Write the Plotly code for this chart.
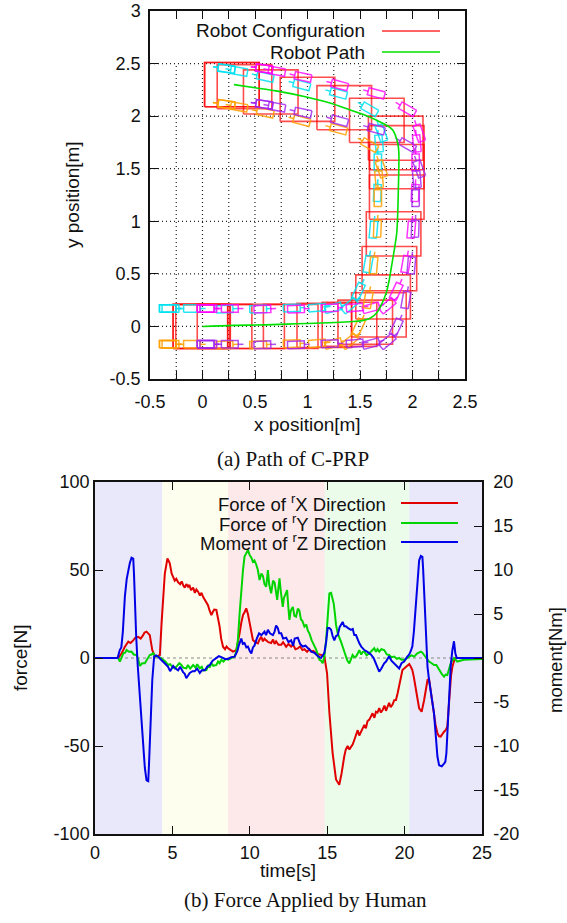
import math
import plotly.graph_objects as go

# ---------------- (a) Path of C-PRP ----------------
# robot path (travel order)
path_x = [0.0, 0.3, 0.6, 0.9, 1.2, 1.4, 1.52, 1.6, 1.66, 1.71, 1.75, 1.78, 1.80, 1.83,
          1.85, 1.86, 1.865, 1.87, 1.87, 1.86, 1.81, 1.74, 1.66, 1.52, 1.4, 1.23, 1.0,
          0.7, 0.5, 0.3]
path_y = [0.0, 0.01, 0.015, 0.025, 0.035, 0.045, 0.055, 0.08, 0.13, 0.22, 0.32, 0.45,
          0.57, 0.75, 0.89, 1.1, 1.3, 1.52, 1.65, 1.74, 1.87, 1.92, 1.96, 2.02, 2.06,
          2.12, 2.18, 2.24, 2.27, 2.3]

# sampled robot configurations: body centre and travel heading [deg]
cfg_x = [-0.02, -0.02, 0.005, 0.21, 0.52, 0.84, 1.16, 1.40, 1.55, 1.68, 1.72, 1.78,
         1.82, 1.85, 1.85, 1.85, 1.84, 1.66, 1.35, 1.00, 0.65, 0.40, 0.28, 0.28]
cfg_y = [0.0, 0.0, 0.0, 0.0, 0.0, 0.0, 0.01, 0.02, 0.04, 0.11, 0.28, 0.55,
         0.88, 1.23, 1.52, 1.70, 1.79, 1.96, 2.08, 2.16, 2.23, 2.28, 2.30, 2.30]
cfg_heading = [0, 0, 0, 0, 2, 2, 2, 5, 15, 40, 65, 80,
               85, 88, 90, 95, 110, 150, 165, 165, 168, 170, 172, 172]

x_ticks = [-0.5, 0, 0.5, 1, 1.5, 2, 2.5]
y_ticks = [-0.5, 0, 0.5, 1, 1.5, 2, 2.5, 3]
x_grid = [-0.25, 0, 0.25, 0.5, 0.75, 1, 1.25, 1.5, 1.75, 2, 2.25]
y_grid = [0, 0.5, 1, 1.5, 2, 2.5]

# ---------------- (b) Force Applied by Human ----------------
t_fx = [0, 1.5, 1.72, 1.93, 2.15, 2.3, 2.47, 2.6, 2.79, 2.95, 3.11, 3.2, 3.33, 3.45, 3.54,
        3.7, 3.87, 4.05, 4.19, 4.3, 4.51, 4.68, 4.83, 4.95, 5.05, 5.15, 5.25, 5.37, 5.5,
        5.6, 5.69, 5.8, 5.9, 6.01, 6.1, 6.2, 6.34, 6.45, 6.55, 6.66, 6.78, 6.88, 6.98,
        7.1, 7.2, 7.3, 7.4, 7.52, 7.6, 7.7, 7.84, 7.95, 8.05, 8.15, 8.27, 8.4, 8.5, 8.6,
        8.75, 8.91, 9.13, 9.25, 9.34, 9.45, 9.56, 9.66, 9.77, 9.88, 9.99, 10.1, 10.2,
        10.35, 10.52, 10.63, 10.74, 10.85, 10.95, 11.06, 11.2, 11.38, 11.5, 11.6, 11.7,
        11.85, 12.03, 12.15, 12.35, 12.5, 12.67, 12.8, 12.95, 13.1, 13.25, 13.4, 13.53,
        13.7, 13.85, 13.96, 14.1, 14.25, 14.39, 14.6, 14.82, 14.99, 15.14, 15.35, 15.57,
        15.78, 15.93, 16.1, 16.2, 16.32, 16.43, 16.54, 16.65, 16.75, 16.85, 16.97, 17.07,
        17.18, 17.3, 17.4, 17.5, 17.6, 17.72, 17.83, 17.93, 18.05, 18.15, 18.25, 18.36,
        18.47, 18.58, 18.7, 18.8, 18.9, 19.0, 19.1, 19.22, 19.33, 19.44, 19.55, 19.65,
        19.75, 19.86, 19.97, 20.08, 20.2, 20.3, 20.4, 20.5, 20.6, 20.72, 20.83, 20.94,
        21.1, 21.26, 21.38, 21.48, 21.58, 21.65, 21.78, 21.9, 22.0, 22.12, 22.23, 22.33,
        22.45, 22.55, 22.65, 22.76, 22.85, 22.91, 23.0, 23.09, 23.2, 23.3, 25]
force_x = [0, 0, 2.7, 6.4, 9.3, 8.5, 10, 11.5, 12, 11, 13, 14.5, 15, 13.5, 13,
           4.5, 0.8, 1.2, 1.7, 19.7, 48, 56.6, 53.8, 48, 46, 44, 45, 43, 42,
           43.5, 41.5, 40, 42, 40.5, 41.5, 38.5, 40, 37, 39, 37.7, 35.5, 37, 34.8,
           33, 31.5, 30, 27, 24.4, 26, 27.5, 27.3, 23, 17.8, 11, 6.4, 5, 6.5, 5.5,
           4.5, 3.6, 4.5, 9, 14, 20, 24.4, 26, 28.2, 25, 19.7, 14, 10.2,
           9, 8.3, 10.5, 12, 9.5, 11, 10, 9, 8.5, 10.5, 8, 9.5,
           7.5, 7.5, 9, 6.4, 8, 6.5, 7.5, 5, 5.5, 6.5, 4.5, 5,
           3.5, 5, 3.6, 4, 3, 2.3, 1.8, 0.8, -8.7, -31, -54, -69,
           -72, -65.5, -56, -52, -50, -52, -50.5, -49, -46.6, -44, -41, -44,
           -42, -39, -38, -40, -36, -35, -33, -31.4, -34, -30.5, -31, -28.5,
           -31, -29.5, -27, -30, -27.7, -25.5, -28, -26.5, -24, -23.9, -20, -16.3,
           -11, -6.8, -6, -5, -4, -3.4, -5, -6.8, -11, -16.3, -23, -28.6,
           -30.5, -24, -16, -12.5, -12, -16, -25, -33, -38, -42.8, -44.5, -44.7,
           -43, -41.9, -41, -39, -28, -18.2, -10, -4.9, -1.5, 0, 0]

t_fy = [0, 1.5, 1.61, 1.72, 1.83, 1.95, 2.04, 2.2, 2.36, 2.5, 2.68, 2.8, 2.9, 3.05, 3.22,
        3.35, 3.54, 3.65, 3.76, 3.9, 4.08, 4.25, 4.4, 4.55, 4.72, 4.85, 5.0, 5.15, 5.3,
        5.45, 5.58, 5.7, 5.9, 6.0, 6.15, 6.34, 6.5, 6.6, 6.77, 6.9, 7.0, 7.2, 7.3, 7.4,
        7.52, 7.65, 7.84, 7.95, 8.05, 8.16, 8.3, 8.45, 8.6, 8.8, 9.02, 9.13, 9.23, 9.34,
        9.45, 9.56, 9.66, 9.78, 9.88, 9.99, 10.1, 10.2, 10.3, 10.42, 10.52, 10.63, 10.75,
        10.85, 10.95, 11.06, 11.12, 11.17, 11.25, 11.32, 11.38, 11.45, 11.5, 11.6, 11.68,
        11.77, 11.85, 11.92, 12.0, 12.13, 12.2, 12.35, 12.41, 12.48, 12.56, 12.65, 12.78,
        12.88, 12.99, 13.1, 13.2, 13.3, 13.4, 13.53, 13.65, 13.75, 13.85, 14.0, 14.17,
        14.3, 14.5, 14.6, 14.71, 14.82, 14.93, 15.03, 15.14, 15.25, 15.35, 15.42, 15.5,
        15.57, 15.68, 15.78, 15.9, 16.0, 16.1, 16.2, 16.3, 16.43, 16.54, 16.64, 16.75,
        16.86, 16.97, 17.07, 17.2, 17.3, 17.4, 17.55, 17.72, 17.85, 18.04, 18.15, 18.25,
        18.36, 18.5, 18.68, 18.85, 19.0, 19.15, 19.33, 19.5, 19.65, 19.8, 19.97, 20.15,
        20.3, 20.45, 20.62, 20.8, 21.05, 21.15, 21.26, 21.4, 21.58, 21.75, 21.9, 22.05,
        22.23, 22.4, 22.55, 22.65, 22.76, 22.88, 22.98, 23.1, 23.19, 23.4, 23.6, 23.83,
        24.2, 24.7, 25]
force_y = [0, 0, -2, 1, 2.7, 3, 4.5, 3.5, 3.6, 2, 1.7, -1, -4.5, -3, -3,
           -1, 1.7, 2, 2.7, 1, 0.8, 0, -1, -2, -4, -3.5, -5, -5.9, -4.5,
           -3, -4, -5.5, -5.9, -4, -6, -4, -5.5, -3.5, -5.9, -5, -7, -6.8, -4, -5.5,
           -3, -4.5, -4, -2, -3, -1, -2, -0.5, -1, 0, 0.8, 4, 10.2, 25,
           38.6, 50, 57.6, 60, 61.4, 58.5, 57, 54.7, 55.5, 53, 50, 44.3, 48,
           46.5, 42, 40.5, 45, 50, 42, 38, 36.7, 41, 44, 43, 37,
           33, 40, 45.3, 38, 29, 34, 36.7, 38.6, 30, 21.6, 27, 29,
           24, 23.5, 28, 27, 22, 21, 17.8, 19, 15.5, 14, 10, 6.4,
           4.5, -1, -1.5, -3, 1, 10.2, 25, 36.7, 37, 34, 31, 25,
           18.8, 14, 12, 9, 6.4, 3.5, 0, -1.5, -3, 0, 1.7, 0.5,
           0.8, 2.5, 4.5, 2, 3.5, 3.6, 1.5, 2.7, 4, 5.5, 3.5, 5,
           3.6, 5, 4.5, 2, 1.7, 0.5, 0.8, -0.5, 0, -1, -1, 0,
           0.8, 1.5, 0.8, 2.5, 3.6, 3, 1.7, 0, -2, -3, -4, -4,
           -6.8, -9, -10.6, -9.5, -9.7, -6, -3, -1, 0, -2, -1.5, -1,
           -0.8, -0.6, -0.5]

t_mz = [0, 1.46, 1.6, 1.7, 1.8, 1.93, 2.05, 2.15, 2.25, 2.36, 2.47, 2.52, 2.58, 2.66,
        2.75, 2.9, 3.0, 3.11, 3.22, 3.33, 3.44, 3.49, 3.54, 3.62, 3.7, 3.82, 3.95, 4.08,
        4.2, 4.3, 4.5, 4.72, 4.85, 5.05, 5.2, 5.37, 5.5, 5.69, 5.8, 5.9, 6.0, 6.12, 6.3,
        6.44, 6.6, 6.77, 6.9, 7.09, 7.25, 7.41, 7.6, 7.84, 8.0, 8.16, 8.4, 8.6, 8.8, 9.02,
        9.2, 9.3, 9.45, 9.55, 9.66, 9.78, 9.88, 10.0, 10.1, 10.2, 10.3, 10.45, 10.6,
        10.75, 10.95, 11.05, 11.17, 11.3, 11.49, 11.6, 11.7, 11.81, 11.9, 12.03, 12.15,
        12.35, 12.5, 12.67, 12.8, 12.9, 13.1, 13.25, 13.42, 13.6, 13.85, 14.0, 14.17,
        14.4, 14.6, 14.82, 14.93, 15.03, 15.14, 15.25, 15.35, 15.46, 15.57, 15.68, 15.8,
        15.9, 16.0, 16.1, 16.2, 16.35, 16.54, 16.65, 16.75, 16.86, 16.97, 17.07, 17.2,
        17.4, 17.6, 17.82, 18.0, 18.15, 18.25, 18.36, 18.5, 18.68, 18.8, 19.0, 19.15,
        19.33, 19.5, 19.65, 19.8, 19.97, 20.15, 20.3, 20.4, 20.5, 20.6, 20.72, 20.83,
        20.94, 21.05, 21.15, 21.2, 21.26, 21.37, 21.48, 21.58, 21.69, 21.8, 21.9, 22.0,
        22.12, 22.23, 22.4, 22.55, 22.63, 22.7, 22.78, 22.87, 22.98, 23.08, 23.19, 23.28,
        23.37, 23.62, 25]
moment_z = [0, 0, 0.9, 1.2, 3, 7.0, 9, 10, 10.8, 11.4, 11.3, 9.5, 5.8, 2.5,
            -0.6, -4.4, -7, -10, -12.5, -13.9, -14, -12, -9.3, -6, -2.5, 0.15, 0.3, 0.15,
            -0.1, -0.2, -0.6, -1, -1.5, -0.9, -1.2, -1.4, -1.0, -1.6, -1.8, -2.3, -2.0, -1.7, -1.5,
            -1.5, -1.2, -1.7, -1.4, -1.4, -1.0, -0.8, -0.3, 0, 0.2, 0.1, -0.1, -0.1, 0.1, 0.15,
            0.8, 1.5, 2.2, 1.6, 1.7, 1.2, 1.3, 0.8, 0.5, 1.2, 1.4, 2.2, 2.8,
            2.6, 3.0, 2.6, 3.2, 2.8, 2.6, 3.0, 3.7, 3.4, 2.8, 2.8, 2.2,
            2.3, 1.8, 2.0, 1.4, 2.2, 2.3, 1.6, 1.3, 1.4, 0.9, 0.7, 0.6,
            0.2, 0, 0.6, 1.8, 3.4, 3.4, 3.2, 2.5, 2.0, 2.5, 2.6, 3.5,
            3.8, 4.1, 3.6, 3.6, 3.4, 3.2, 3.3, 2.6, 2.6, 2.0, 1.7, 1.3,
            0.9, 0.7, 0.4, 0, -0.6, -1.2, -1.55, -1.2, -0.6, -0.4, 0.2, -0.3,
            -0.6, -0.9, -1.2, -0.6, -0.4, 0.1, 0.4, 0.8, 1.3, 3, 5.8, 8.5,
            11.1, 11.6, 11.5, 10, 7.7, 3, -1, -2.5, -4, -5, -6.3, -8.5,
            -11.2, -12.2, -12.3, -12.0, -11.8, -10.8, -8, -3.6, -0.9, 0.8, 1.9, 0.5,
            0, 0, 0]

t_ticks = [0, 5, 10, 15, 20, 25]
f_ticks = [-100, -50, 0, 50, 100]
m_ticks = [-20, -15, -10, -5, 0, 5, 10, 15, 20]

phase_bounds = [0, 4.35, 8.6, 14.85, 20.3, 25]
phase_colors = ["#e8e8fa", "#fefeee", "#fde9e9", "#ebfceb", "#e8e8fa"]

legend_b = ["Force of <sup>r</sup>X Direction",
            "Force of <sup>r</sup>Y Direction",
            "Moment of <sup>r</sup>Z Direction"]

# ---------------- geometry helpers ----------------
W, H = 567, 923
BODY_HW, BODY_HH = 0.26, 0.21       # half size of the carried body
PIVOT_DX, PIVOT_DY = 0.18, 0.17     # caster pivot offsets from the centre
TRAIL, WHEEL_HL, WHEEL_HW = 0.13, 0.08, 0.035

def px(v):
    return v / W

def py(v):
    return 1 - v / H

def labels(vals):
    return [f"{v:g}" for v in vals]

def body_outline(cx, cy):
    xs = [cx - BODY_HW, cx + BODY_HW, cx + BODY_HW, cx - BODY_HW, cx - BODY_HW, None]
    ys = [cy - BODY_HH, cy - BODY_HH, cy + BODY_HH, cy + BODY_HH, cy - BODY_HH, None]
    return xs, ys

def caster_outline(pxv, pyv, heading):
    a = math.radians(heading)
    dx, dy = math.cos(a), math.sin(a)
    nx, ny = -dy, dx
    cx, cy = pxv - TRAIL * dx, pyv - TRAIL * dy
    pts = [(cx + sl * WHEEL_HL * dx + sw * WHEEL_HW * nx,
            cy + sl * WHEEL_HL * dy + sw * WHEEL_HW * ny)
           for sl, sw in [(-1, -1), (1, -1), (1, 1), (-1, 1), (-1, -1)]]
    xs = [p[0] for p in pts] + [None, cx + WHEEL_HL * dx, pxv, None]
    ys = [p[1] for p in pts] + [None, cy + WHEEL_HL * dy, pyv, None]
    return xs, ys

fig = go.Figure()

# body outlines
bx, by = [], []
for cx, cy in zip(cfg_x, cfg_y):
    xs, ys = body_outline(cx, cy)
    bx += xs
    by += ys
fig.add_trace(go.Scatter(x=bx, y=by, mode="lines", xaxis="x", yaxis="y",
                         line=dict(color="rgba(255,0,0,0.7)", width=1.6),
                         hoverinfo="skip", showlegend=False))

# four casters per configuration
casters = [(-1, 1, "rgba(0,225,240,0.85)"), (1, 1, "rgba(255,0,255,0.8)"),
           (-1, -1, "rgba(255,160,0,0.85)"), (1, -1, "rgba(160,32,240,0.8)")]
for sx, sy, col in casters:
    wx, wy = [], []
    for cx, cy, hd in zip(cfg_x, cfg_y, cfg_heading):
        xs, ys = caster_outline(cx + sx * PIVOT_DX, cy + sy * PIVOT_DY, hd)
        wx += xs
        wy += ys
    fig.add_trace(go.Scatter(x=wx, y=wy, mode="lines", xaxis="x", yaxis="y",
                             line=dict(color=col, width=1.5),
                             hoverinfo="skip", showlegend=False))

fig.add_trace(go.Scatter(x=path_x, y=path_y, mode="lines", xaxis="x", yaxis="y",
                         line=dict(color="#00e000", width=1.6, shape="spline"),
                         showlegend=False))

# force / moment curves
fig.add_trace(go.Scatter(x=t_fx, y=force_x, mode="lines", xaxis="x2", yaxis="y2",
                         line=dict(color="#e00000", width=2), showlegend=False))
fig.add_trace(go.Scatter(x=t_fy, y=force_y, mode="lines", xaxis="x2", yaxis="y2",
                         line=dict(color="#00d400", width=2), showlegend=False))
fig.add_trace(go.Scatter(x=t_mz, y=moment_z, mode="lines", xaxis="x2", yaxis="y3",
                         line=dict(color="#0000e6", width=2), showlegend=False))

shapes = []
# dotted grid of the path plot
GRID = dict(color="#222", width=1.2, dash="1px,3px")
for gx in x_grid:
    shapes.append(dict(type="line", xref="x", yref="y", x0=gx, x1=gx, y0=-0.5, y1=2.5,
                       line=GRID, layer="below"))
for gy in y_grid:
    shapes.append(dict(type="line", xref="x", yref="y", x0=-0.5, x1=2.5, y0=gy, y1=gy,
                       line=GRID, layer="below"))
# phase shading of the force plot
for i, col in enumerate(phase_colors):
    shapes.append(dict(type="rect", xref="x2", yref="y2",
                       x0=phase_bounds[i], x1=phase_bounds[i + 1], y0=-100, y1=100,
                       fillcolor=col, line=dict(width=0), layer="below"))
shapes.append(dict(type="line", xref="x2", yref="y2", x0=0, x1=25, y0=0, y1=0,
                   line=dict(color="#888", width=1, dash="3px,3px"), layer="below"))

# key samples
key_a = [("Robot Configuration", "#ff3030", 31), ("Robot Path", "#00e000", 52)]
key_b_cols = ["#e00000", "#00d400", "#0000e6"]
key_b_rows = [503, 523, 542]

TXT = dict(family="Liberation Sans, Arial, sans-serif", size=19, color="#111")
annotations = []
for label, col, row in key_a:
    annotations.append(dict(text=label, x=px(367), y=py(row), xref="paper", yref="paper",
                            xanchor="right", yanchor="middle", showarrow=False, font=TXT))
    shapes.append(dict(type="line", xref="paper", yref="paper", x0=px(382), x1=px(440),
                       y0=py(row), y1=py(row), line=dict(color=col, width=1.6)))
for label, col, row in zip(legend_b, key_b_cols, key_b_rows):
    annotations.append(dict(text=label, x=px(388), y=py(row), xref="paper", yref="paper",
                            xanchor="right", yanchor="middle", showarrow=False,
                            font=dict(TXT, size=18.5)))
    shapes.append(dict(type="line", xref="paper", yref="paper", x0=px(401), x1=px(458),
                       y0=py(row), y1=py(row), line=dict(color=col, width=2)))

CAP = dict(family="Liberation Serif, Times New Roman, serif", size=21, color="#111")
for text, x, y, ang, font in [
        ("x position[m]", 307, 424, 0, TXT),
        ("y position[m]", 73, 195, -90, TXT),
        ("(a) Path of C-PRP", 293, 459, 0, CAP),
        ("time[s]", 288, 870, 0, TXT),
        ("force[N]", 20, 658, -90, TXT),
        ("moment[Nm]", 555, 660, -90, dict(TXT, size=18.5)),
        ("(b) Force Applied by Human", 305, 900, 0, CAP)]:
    annotations.append(dict(text=text, x=px(x), y=py(y), xref="paper", yref="paper",
                            xanchor="center", yanchor="middle", textangle=ang,
                            showarrow=False, font=font))

AX = dict(showline=True, linecolor="#111", linewidth=1.5, ticks="inside", ticklen=8,
          tickcolor="#111", tickwidth=1, showgrid=False, zeroline=False,
          automargin=False,
          tickfont=dict(family="Liberation Sans, Arial, sans-serif", size=18, color="#111"),
          fixedrange=True)

fig.update_layout(
    template="none",
    width=W, height=H, margin=dict(l=0, r=0, t=0, b=0, pad=0, autoexpand=False),
    paper_bgcolor="white", plot_bgcolor="white",
    showlegend=False,
    xaxis=dict(AX, domain=[px(150), px(465)], range=[-0.5, 2.5], anchor="y",
               tickvals=x_ticks, ticktext=labels(x_ticks), mirror="ticks",
               minor=dict(tickvals=x_grid, ticks="inside", ticklen=8, tickcolor="#111"),
               ticklabelstandoff=6),
    yaxis=dict(AX, domain=[py(379), py(11)], range=[-0.5, 3], anchor="x",
               tickvals=y_ticks, ticktext=labels(y_ticks), mirror="ticks",
               ticklabelstandoff=4),
    xaxis2=dict(AX, domain=[px(95), px(482)], range=[0, 25], anchor="y2",
                tickvals=t_ticks, ticktext=labels(t_ticks), mirror="ticks",
                ticklabelstandoff=2),
    yaxis2=dict(AX, domain=[py(834), py(482)], range=[-100, 100], anchor="x2",
                tickvals=f_ticks, ticktext=labels(f_ticks), mirror=True),
    yaxis3=dict(AX, domain=[py(834), py(482)], range=[-20, 20], anchor="x2",
                overlaying="y2", side="right", tickvals=m_ticks, ticktext=labels(m_ticks),
                ticklabelstandoff=6),
    shapes=shapes, annotations=annotations,
)

fig.write_html("out.html")
